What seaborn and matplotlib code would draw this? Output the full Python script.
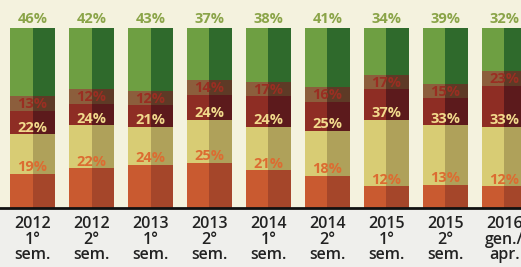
import pandas as pd
import seaborn as sns
import matplotlib.pyplot as plt

# periods on the x axis
periods = ["2012\n1°\nsem.", "2012\n2°\nsem.", "2013\n1°\nsem.", "2013\n2°\nsem.",
           "2014\n1°\nsem.", "2014\n2°\nsem.", "2015\n1°\nsem.", "2015\n2°\nsem.",
           "2016\ngen./\napr."]

# shares in percent, top segment first
green_share = [46, 42, 43, 37, 38, 41, 34, 39, 32]
maroon_share = [13, 12, 12, 14, 17, 16, 17, 15, 23]
yellow_share = [22, 24, 21, 24, 24, 25, 37, 33, 33]
orange_share = [19, 22, 24, 25, 21, 18, 12, 13, 12]

BG = "#F4F2DE"
PAGE = "#EFEFEC"
BAND = 8  # dark strip under the green segment, behind its label


def build_layers():
    df = pd.DataFrame({"period": periods, "green": green_share, "maroon": maroon_share,
                       "yellow": yellow_share, "orange": orange_share})
    df["c_orange"] = df["orange"]
    df["c_yellow"] = df["c_orange"] + df["yellow"]
    df["c_maroon"] = df["c_yellow"] + df["maroon"]
    df["c_green"] = df["c_maroon"] + df["green"]
    df["c_band"] = df["c_maroon"] + BAND
    return df


def two_tone(df, col):
    # each bar is drawn as a light left half and a dark right half
    left = pd.DataFrame({"period": df["period"], "half": "L", "y": df[col]})
    right = pd.DataFrame({"period": df["period"], "half": "R", "y": df[col]})
    return pd.concat([left, right], ignore_index=True)


df = build_layers()

fig = plt.figure(figsize=(5.21, 2.67), dpi=100, facecolor=PAGE)
ax = fig.add_axes([0, 0.221, 1, 0.779], facecolor=BG)

layers = [("c_green", "#6E9F42", "#2F6A2C"),
          ("c_band", "#8C5E3C", "#5E3A26"),
          ("c_maroon", "#8E2D24", "#5C1A1C"),
          ("c_yellow", "#D8CC74", "#AFA15A"),
          ("c_orange", "#C95A30", "#A5462A")]
for col, light, dark in layers:
    sns.barplot(data=two_tone(df, col), x="period", y="y", hue="half",
                palette=[light, dark], width=0.76, gap=0, dodge=True,
                saturation=1, legend=False, errorbar=None, ax=ax)

# percentage labels sit just above the segment they belong to
label_font = dict(family=["Open Sans", "DejaVu Sans"], fontsize=10.5, fontweight="bold",
                  ha="center", va="baseline")
for i in range(len(periods)):
    ax.text(i, df["c_green"][i] + 3, f"{green_share[i]}%", color="#8AA448", **label_font)
    ax.text(i, df["c_maroon"][i] + 1.5, f"{maroon_share[i]}%", color="#9A2E22", **label_font)
    ax.text(i, df["c_yellow"][i] + 1.5, f"{yellow_share[i]}%", color="#F2DA8C", **label_font)
    ax.text(i, df["c_orange"][i] + 1.5, f"{orange_share[i]}%", color="#DC6C32", **label_font)

ax.set_xlim(-0.551, 8.28)
ax.set_ylim(0, 115.6)
ax.set_xlabel("")
ax.set_ylabel("")
ax.set_yticks([])
sns.despine(ax=ax, left=True, right=True, top=True)
ax.spines["bottom"].set_color("#111111")
ax.spines["bottom"].set_linewidth(2)
ax.tick_params(axis="x", length=0, pad=6)
for lbl in ax.get_xticklabels():
    lbl.set_family(["Open Sans", "DejaVu Sans"])
    lbl.set_fontsize(11.5)
    lbl.set_fontweight("semibold")
    lbl.set_color("#222222")
    lbl.set_linespacing(0.95)

fig.savefig("out.png", dpi=100, facecolor=PAGE)
